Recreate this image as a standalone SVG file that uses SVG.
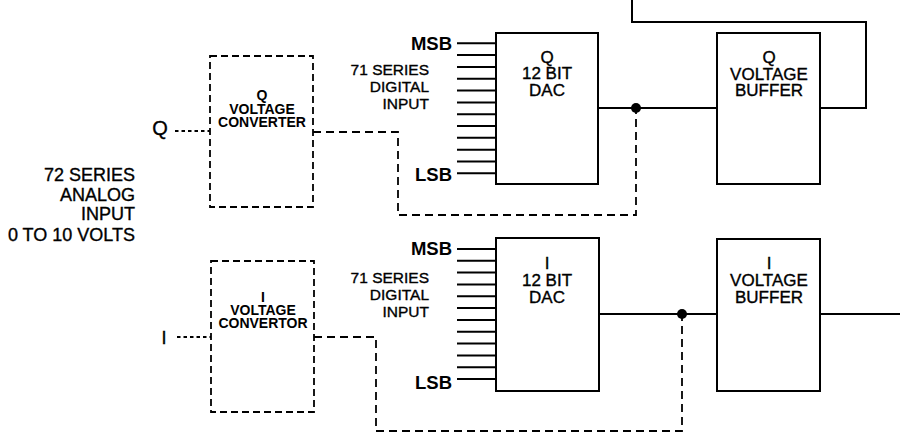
<svg xmlns="http://www.w3.org/2000/svg" width="900" height="437" viewBox="0 0 900 437">
<style>
.box{fill:none;stroke:#000;stroke-width:2}
.dbox{fill:none;stroke:#000;stroke-width:1.8;stroke-dasharray:7 4}
.w{fill:none;stroke:#000;stroke-width:2}
.dw{fill:none;stroke:#000;stroke-width:1.8;stroke-dasharray:8 5}
.dws{fill:none;stroke:#000;stroke-width:1.8;stroke-dasharray:3.5 3}
.pin{stroke:#000;stroke-width:2}
text{font-family:"Liberation Sans",Arial,sans-serif;fill:#000;stroke:#000;stroke-width:0.35}
.c{text-anchor:middle}
.e{text-anchor:end}
.t14{font-size:14px;font-weight:bold;stroke-width:0}
.t15{font-size:15.5px}
.t17{font-size:17px}
.t18{font-size:18px}
.b{font-weight:bold;font-size:18.5px;stroke-width:0}
</style>
<rect width="900" height="437" fill="#fff"/>

<g id="analog-label">
<text class="e t18" x="135" y="181">72 SERIES</text>
<text class="e t18" x="135" y="200.5">ANALOG</text>
<text class="e t18" x="135" y="220">INPUT</text>
<text class="e t18" x="135" y="241">0 TO 10 VOLTS</text>
</g>

<g id="q-input"><text class="c" x="160" y="135" font-size="20" stroke-width="0.6">Q</text></g>
<g id="i-input"><text class="c" x="164" y="343.5" font-size="18" stroke-width="0.6">I</text></g>

<g id="q-converter">
<rect class="dbox" x="210" y="56" width="103" height="151"/>
<text class="c t14" x="262" y="100">Q</text>
<text class="c t14" x="262" y="113.5">VOLTAGE</text>
<text class="c t14" x="262" y="127">CONVERTER</text>
</g>

<g id="i-converter">
<rect class="dbox" x="211" y="261" width="103" height="151"/>
<text class="c t14" x="263" y="302">I</text>
<text class="c t14" x="263" y="315">VOLTAGE</text>
<text class="c t14" x="263" y="328">CONVERTOR</text>
</g>

<g id="q-digital-input">
<text class="b e" x="452" y="49.5">MSB</text>
<text class="e t15" x="429" y="74.5">71 SERIES</text>
<text class="e t15" x="429" y="91.5">DIGITAL</text>
<text class="e t15" x="429" y="108.5">INPUT</text>
<text class="b e" x="452" y="180.5">LSB</text>
</g>

<g id="i-digital-input">
<text class="b e" x="452" y="254.5">MSB</text>
<text class="e t15" x="429" y="282.5">71 SERIES</text>
<text class="e t15" x="429" y="299.5">DIGITAL</text>
<text class="e t15" x="429" y="316.5">INPUT</text>
<text class="b e" x="452" y="388.5">LSB</text>
</g>

<g id="q-dac">
<rect class="box" x="496" y="33" width="102" height="151"/>
<text class="c t17" x="547" y="63">Q</text>
<text class="c t17" x="547" y="79">12 BIT</text>
<text class="c t17" x="547" y="96">DAC</text>
</g>

<g id="q-buffer">
<rect class="box" x="717" y="33" width="103" height="151"/>
<text class="c t17" x="769" y="63">Q</text>
<text class="c t17" x="769" y="80">VOLTAGE</text>
<text class="c t17" x="769" y="96">BUFFER</text>
</g>

<g id="i-dac">
<rect class="box" x="496" y="238" width="103" height="153"/>
<text class="c t17" x="547" y="269">I</text>
<text class="c t17" x="547" y="286">12 BIT</text>
<text class="c t17" x="547" y="303">DAC</text>
</g>

<g id="i-buffer">
<rect class="box" x="717" y="239" width="103" height="152"/>
<text class="c t17" x="769" y="269">I</text>
<text class="c t17" x="769" y="286">VOLTAGE</text>
<text class="c t17" x="769" y="303">BUFFER</text>
</g>

<g id="connectors">
<path class="pin" d="M457 43.3H496M457 55.1H496M457 66.9H496M457 78.8H496M457 90.6H496M457 102.4H496M457 114.2H496M457 126H496M457 137.8H496M457 149.7H496M457 161.5H496M457 173.3H496"/>
<path class="pin" d="M457 249H496M457 260.8H496M457 272.6H496M457 284.5H496M457 296.3H496M457 308.1H496M457 319.9H496M457 331.7H496M457 343.5H496M457 355.4H496M457 367.2H496M457 379H496"/>
<path class="dws" d="M175 131H210"/>
<path class="dw" d="M313 132H398V215H636V108"/>
<path class="w" d="M598 108H717"/>
<circle cx="636" cy="108" r="5"/>
<path class="w" d="M820 108H866V22H632V0"/>
<path class="dws" d="M177 337H211"/>
<path class="dw" d="M314 337H376V431H682V314"/>
<path class="w" d="M599 314H717"/>
<circle cx="682" cy="314" r="5"/>
<path class="w" d="M820 314H900"/>
</g>
</svg>
